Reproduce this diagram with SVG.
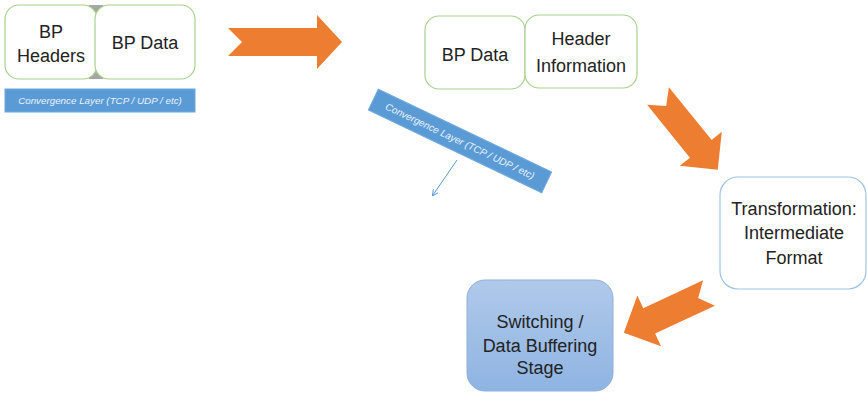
<svg xmlns="http://www.w3.org/2000/svg" width="867" height="393" viewBox="0 0 867 393">
<defs>
<style>
.gbox{fill:#fff;stroke:#a9d18e;stroke-width:1.2}
.t{font-family:"Liberation Sans",Arial,sans-serif;font-size:18px;fill:#222;text-anchor:middle}
.bar{fill:#5b9bd5;stroke:#6fa8dc;stroke-width:1}
.bt{font-family:"Liberation Sans",Arial,sans-serif;font-size:9.8px;font-style:italic;fill:#eaf2fb;text-anchor:middle}
.arr{fill:#ed7d31}
</style>
<linearGradient id="sw" x1="0" y1="0" x2="0" y2="1">
<stop offset="0" stop-color="#b0c9ea"/>
<stop offset="1" stop-color="#8fb4e2"/>
</linearGradient>
<marker id="ah" markerWidth="6" markerHeight="6" refX="5" refY="3" orient="auto" markerUnits="userSpaceOnUse">
<path d="M0,0 L6,3 L0,6" fill="none" stroke="#5b9bd5" stroke-width="1"/>
</marker>
</defs>

<g id="bp-left">
<rect x="89" y="5" width="14" height="74" fill="#a6a6a6"/>
<rect id="bp-headers" class="gbox" x="5" y="5" width="92" height="74" rx="14"/>
<rect id="bp-data-left" class="gbox" x="95" y="5" width="100" height="74" rx="14"/>
<text class="t" x="51" y="38">BP</text>
<text class="t" x="51" y="62">Headers</text>
<text class="t" x="145" y="49">BP Data</text>
</g>

<g id="cl-left">
<rect class="bar" x="5" y="89" width="190" height="23"/>
<text class="bt" x="100" y="104">Convergence Layer (TCP / UDP / etc)</text>
</g>

<g id="bp-middle">
<rect class="gbox" x="425" y="16" width="100" height="73" rx="14"/>
<text class="t" x="475" y="61">BP Data</text>
</g>
<g id="header-info">
<rect class="gbox" x="525" y="15" width="112" height="73" rx="14"/>
<text class="t" x="581" y="45">Header</text>
<text class="t" x="581" y="72">Information</text>
</g>

<g id="cl-rotated" transform="translate(460,141) rotate(25.5)">
<rect class="bar" x="-96" y="-11.5" width="192" height="23"/>
<text class="bt" x="0" y="3.5">Convergence Layer (TCP / UDP / etc)</text>
</g>

<g id="transformation">
<rect x="720" y="177" width="146" height="112" rx="18" fill="#fff" stroke="#9dc3e6" stroke-width="1.2"/>
<text class="t" x="794" y="215">Transformation:</text>
<text class="t" x="794" y="239">Intermediate</text>
<text class="t" x="794" y="264">Format</text>
</g>

<g id="switching">
<rect x="467" y="280" width="146" height="111" rx="18" fill="url(#sw)" stroke="#8eb0dc" stroke-width="1"/>
<text class="t" x="540" y="328">Switching /</text>
<text class="t" x="540" y="352">Data Buffering</text>
<text class="t" x="540" y="374">Stage</text>
</g>

<g id="connectors">
<path class="arr" transform="translate(228,42)" d="M0,-14 L89,-14 L89,-27 L114,0 L89,27 L89,14 L0,14 L14,0 Z"/>
<path class="arr" transform="translate(658,96) rotate(51)" d="M0,-14 L68,-14 L68,-27 L95,0 L68,27 L68,14 L0,14 L13,0 Z"/>
<path class="arr" transform="translate(709,293) rotate(155)" d="M0,-14 L66,-14 L66,-28 L94,0 L66,28 L66,14 L0,14 L12,0 Z"/>
<line x1="457" y1="160" x2="433" y2="195" stroke="#5b9bd5" stroke-width="1" marker-end="url(#ah)"/>
</g>
</svg>
